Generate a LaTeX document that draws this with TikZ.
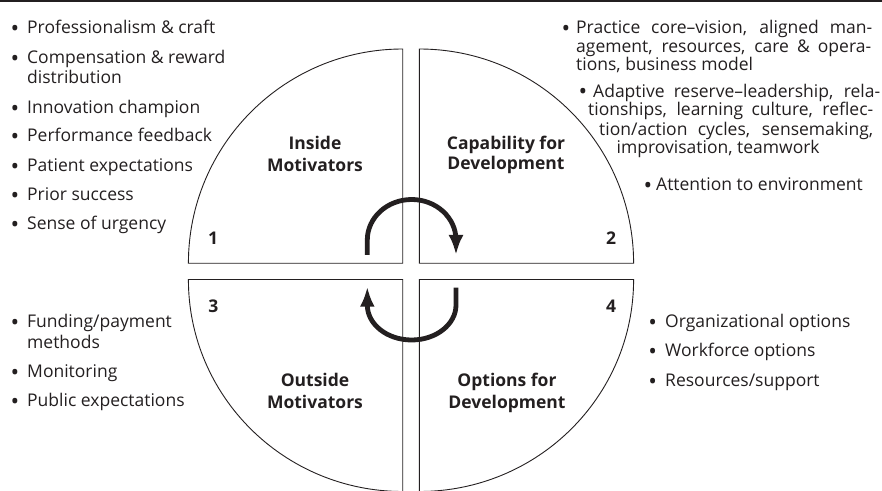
\documentclass[tikz,border=0pt]{standalone}
\usepackage{fontspec}
\setmainfont{Open Sans}
\usetikzlibrary{arrows.meta}
\definecolor{ink}{RGB}{35,31,32}

\begin{document}
\begin{tikzpicture}[x=1pt,y=1pt,
  txt/.style={anchor=base west,inner sep=0pt,font=\fontsize{17.5}{20}\selectfont,text=ink},
  blt/.style={anchor=base,inner sep=0pt,yshift=-2.8pt,font=\fontsize{23}{23}\selectfont,text=ink},
  lbl/.style={anchor=base,inner sep=0pt,font=\fontsize{17.5}{20}\selectfont\bfseries,text=ink},
  quadrant/.style={draw=ink,line width=0.9pt},
  cyc/.style={draw=ink,line width=4.8pt,-{Latex[length=20pt,width=15pt]}}]
\useasboundingbox (0,0) rectangle (882,490);
\clip (0,0) rectangle (882,490);
\fill[ink] (0,487.5) rectangle (882,490);
% the four quadrants
\draw[quadrant] (402.7,226.7) -- (402.7,441) arc[start angle=90,end angle=180,radius=214.3] -- cycle;
\draw[quadrant] (419.3,226.7) -- (419.3,441) arc[start angle=90,end angle=0,radius=214.3] -- cycle;
\draw[quadrant] (402.7,210.5) -- (188.4,210.5) arc[start angle=180,end angle=270,x radius=214.3,y radius=212] -- cycle;
\draw[quadrant] (419.3,210.5) -- (633.6,210.5) arc[start angle=0,end angle=-90,x radius=214.3,y radius=212] -- cycle;
% cycle arrows
\coordinate (ta) at (367.3,235);
\coordinate (tb) at (456,235);
\coordinate (ba) at (456,202.3);
\coordinate (bb) at (367.3,203.3);
\draw[cyc] (ta) -- ++(0,15) arc[start angle=180,end angle=0,x radius=44.35,y radius=40.5] -- (tb);
\draw[cyc] (ba) -- (456,185) arc[start angle=0,end angle=-180,x radius=44.35,y radius=35] -- (bb);
% quadrant titles
\node[lbl] (insideA) at (315,340.7) {Inside};
\node[lbl] (insideB) at (315,318.7) {Motivators};
\node[lbl] (capA) at (506,340.7) {Capability for};
\node[lbl] (capB) at (506,320) {Development};
\node[lbl] (outsideA) at (315,103.3) {Outside};
\node[lbl] (outsideB) at (315,81.7) {Motivators};
\node[lbl] (optA) at (507,103.3) {Options for};
\node[lbl] (optB) at (507,81.7) {Development};
\node[lbl] (n1) at (213,245) {1};
\node[lbl] (n2) at (611,245) {2};
\node[lbl] (n3) at (213.3,177.3) {3};
\node[lbl] (n4) at (611,177.3) {4};
% inside motivators list
\node[blt] (b1) at (15,456.7) {\textbullet};
\node[txt] (t1) at (27,456.7) {Professionalism \& craft};
\node[blt] (b2) at (15,426.7) {\textbullet};
\node[txt] (t2) at (27,426.7) {Compensation \& reward};
\node[txt] (t2b) at (27,406.7) {distribution};
\node[blt] (b3) at (15,376.7) {\textbullet};
\node[txt] (t3) at (27,376.7) {Innovation champion};
\node[blt] (b4) at (15,348) {\textbullet};
\node[txt] (t4) at (27,348) {Performance feedback};
\node[blt] (b5) at (15,318.5) {\textbullet};
\node[txt] (t5) at (27,318.5) {Patient expectations};
\node[blt] (b6) at (15,289.5) {\textbullet};
\node[txt] (t6) at (27,289.5) {Prior success};
\node[blt] (b7) at (15,260) {\textbullet};
\node[txt] (t7) at (27,260) {Sense of urgency};
% capability list, justified lines
\node[blt] (c1) at (566,456.2) {\textbullet};
\node[txt] (r1) at (576,456.2) {\hbox to 296pt{Practice core--vision, aligned man-}};
\node[txt] (r1b) at (576,437.5) {\hbox to 295pt{agement, resources, care \& opera-}};
\node[txt] (r1c) at (576,419.2) {tions, business model};
\node[blt] (c2) at (583,392.8) {\textbullet};
\node[txt] (r2) at (593,392.8) {\hbox to 287pt{Adaptive reserve--leadership, rela-}};
\node[txt] (r2b) at (588,374.5) {\hbox to 285pt{tionships, learning culture, reflec-}};
\node[txt] (r2c) at (599,354.5) {\hbox to 274pt{tion/action cycles, sensemaking,}};
\node[txt] (r2d) at (616.5,336.2) {improvisation, teamwork};
\node[blt] (c3) at (648,299.5) {\textbullet};
\node[txt] (r3) at (656,299.5) {Attention to environment};
% outside motivators list
\node[blt] (d1) at (15,162.7) {\textbullet};
\node[txt] (s1) at (27,162.7) {Funding/payment};
\node[txt] (s1b) at (27,141.7) {methods};
\node[blt] (d2) at (15,112.7) {\textbullet};
\node[txt] (s2) at (27,112.7) {Monitoring};
\node[blt] (d3) at (15,83.3) {\textbullet};
\node[txt] (s3) at (27,83.3) {Public expectations};
% options list
\node[blt] (e1) at (652.7,162.7) {\textbullet};
\node[txt] (o1) at (665,162.7) {Organizational options};
\node[blt] (e2) at (652.7,133.3) {\textbullet};
\node[txt] (o2) at (665,133.3) {Workforce options};
\node[blt] (e3) at (652.7,103.3) {\textbullet};
\node[txt] (o3) at (665,103.3) {Resources/support};
\end{tikzpicture}
\end{document}
